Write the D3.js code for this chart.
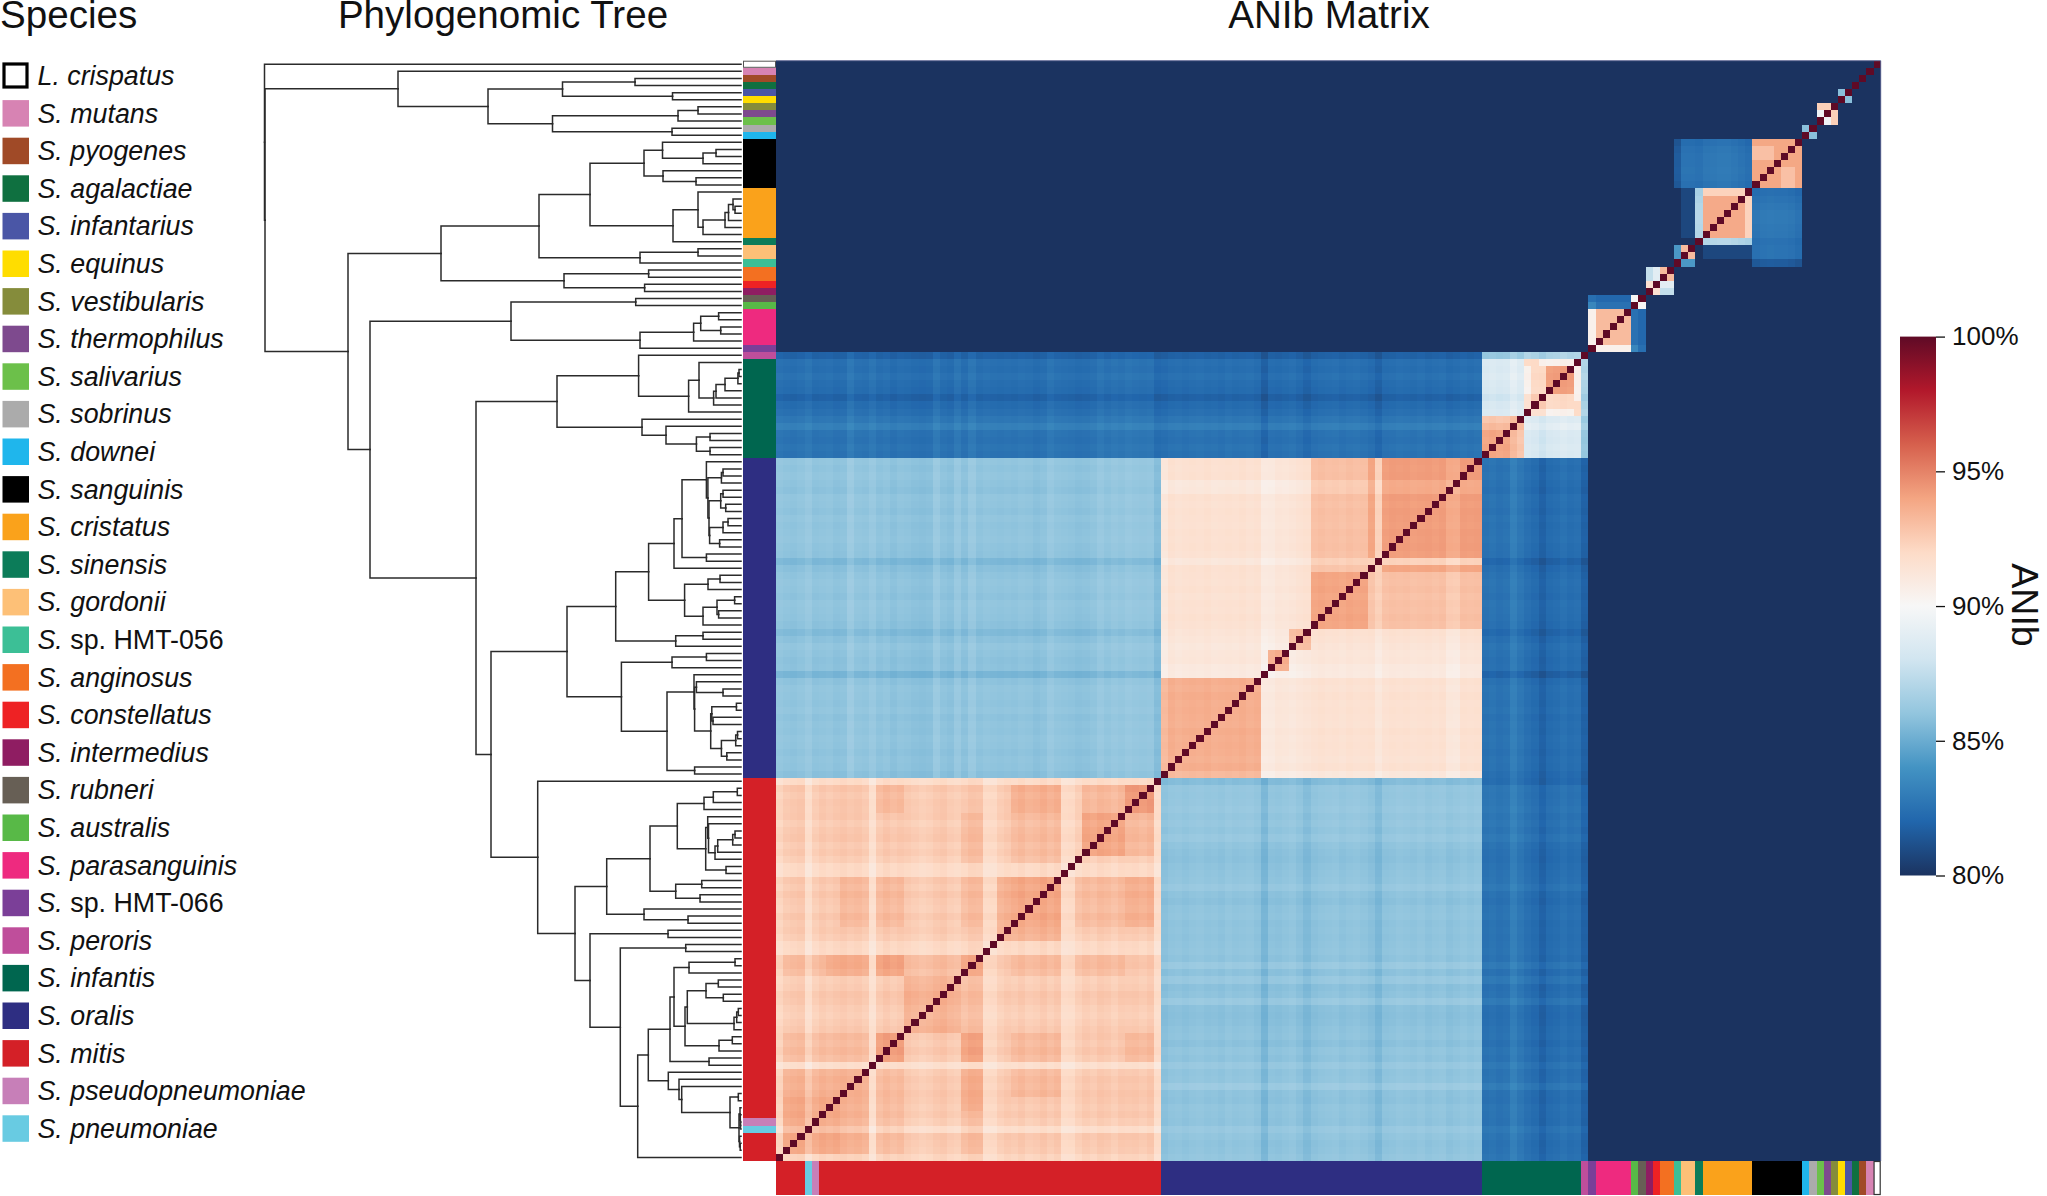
<!DOCTYPE html>
<html>
<head>
<meta charset="utf-8">
<script src="https://cdn.jsdelivr.net/npm/d3@7"></script>
<style>
  html, body { margin: 0; background: #fff; }
  svg { display: block; }
  text { font-family: "Liberation Sans", Arial, sans-serif; fill: #111; }
</style>
</head>
<body>
<svg id="chart" width="2047" height="1196"></svg>
<script>
// legend order, top to bottom
const speciesNames = ["L. crispatus", "S. mutans", "S. pyogenes", "S. agalactiae", "S. infantarius", "S. equinus",
  "S. vestibularis", "S. thermophilus", "S. salivarius", "S. sobrinus", "S. downei", "S. sanguinis", "S. cristatus",
  "S. sinensis", "S. gordonii", "S. sp. HMT-056", "S. anginosus", "S. constellatus", "S. intermedius", "S. rubneri",
  "S. australis", "S. parasanguinis", "S. sp. HMT-066", "S. peroris", "S. infantis", "S. oralis", "S. mitis",
  "S. pseudopneumoniae", "S. pneumoniae"];
const speciesColors = ["#ffffff", "#d783b3", "#a04a27", "#0f7040", "#4a56a6", "#ffdd00",
  "#858c3b", "#7e4a8e", "#6cc04a", "#ababab", "#1fb6ec", "#000000", "#faa21b",
  "#0c7c59", "#fdc077", "#3cbf96", "#f37021", "#ee2224", "#8f1d62", "#675f55",
  "#58b947", "#ee2a7f", "#7b3f98", "#bf4e9b", "#00664f", "#2e2e82", "#d42027",
  "#c77fb8", "#68cbe2"];

// genomes per species, in tree order (mitis comes twice, around pseudopneumoniae and pneumoniae)
const leafRuns = [[0,1],[1,1],[2,1],[3,1],[4,1],[5,1],[6,1],[7,1],[8,1],[9,1],[10,1],[11,7],[12,7],[13,1],[14,2],[15,1],
  [16,2],[17,1],[18,1],[19,1],[20,1],[21,5],[22,1],[23,1],[24,14],[25,45],[26,48],[27,1],[28,1],[26,4]];

// tree clades: [branch depth, child, child], a plain number is a leaf
const earlyTree = [135, 1, [225, [299.5, [372, 2, 3], [409.5, 4, 5]], [289.5, [415, [435, 6, 7], 8], [409, 9, 10]]]];
const sanguinisTree = [178,
  [276,
    [327,
      [381, [399.5, 11, [440, [453, 12, 13], 14]], [400, 15, [433, 16, 17]]],
      [410, [435, 18, [440, [462, [465.5, [470, 19, [472, 20, 21]], 22], 23], 24]], 25]],
    [377, [435, 26, 27], 28]],
  [301, [385.6, 29, 30], [381.6, 31, 32]]];
const parasTree = [248, [372.7, 33, 34], [377, [430.6, [437.7, [455.6, 35, 36], [457.7, 37, 38]], 39], 40]];
const infantisTree = [294,
  [375.6, 41, [425.6, [436, 42, [450.6, [453, [462, [474.9, [476, 43, 44], 45], 46], 47], 48]], 49]],
  [379, 50, [403, 51, [433.4, [447, 52, 53], [447, 54, 55]]]]];

const oralisA = [444.9, [458.4, [460, 57, 58], 59],
  [446, [457.7, [460, 60, 61], [462.7, 62, 63]], [446.6, [460, [465, 64, 65], 66], [456.6, 67, 68]]]];
const oralisB = [421.6, [445, [457, 72, 73], 74], [440, [454, [471.6, 75, 76], [455.6, 77, 78]], 79]];
const oralisUpper = [352.7, [385.6, [411, [419, [443.4, 56, oralisA], [443.4, 69, 70]], 71], oralisB], [412.7, [440, 80, 81], 82]];
const oralisLower = [358.4, [409, [443.4, 83, 84], 85],
  [404,
    [431, 86, [431.6, [433.4, 87, [460, 88, 89]],
      [447.7, [448.8, [473.4, 90, 91], [450, 92, 93]], [458.4, [472.7, [474.5, 94, 95], 96], [463.8, 97, 98]]]]],
    [431.6, 99, 100]]];
const oralisTree = [304, oralisUpper, oralisLower];

const mitisUpper = [343.7,
  [387,
    [414.3,
      [441, [450.3, [474.3, 102, 103], 104], 105],
      [442.7, [444.7, 106, [445.5, 107, [452, [454.7, [469.7, [472, 108, 109], 110], 111], 112]]], [463, 113, 114]]],
    [412.7, [438.7, 115, 116], [437, 117, 118]]],
  [381, 119, [425, 120, 121]]];
const mitisMid = [407,
  [411, [426, [472, 126, 127], 128],
    [422, [424.3, [443, [455.3, 129, 130], [460.3, 131, 132]], [471, [473.7, [475.3, 133, 134], 135], 136]],
      [456, [469.3, 137, 138], 139]]],
  [446, 140, 141]];
const mitisLate = [405.3, 142, [416, 143, [418.7, 144, [467, [475.3, 145, 146],
  [476, [477, 147, [477.3, 148, [477.5, 149, 150]]], [476.5, 151, [477.2, 152, 153]]]]]]];
const mitisLower = [327, [405, 122, 123], [357.3, [422.7, 124, 125], [374.7, [385.3, mitisMid, mitisLate], 154]]];
const mitisTree = [274.7, 101, [312, mitisUpper, mitisLower]];

const tree = [1.5, 0, [2, earlyTree, [85, sanguinisTree, [107, parasTree, [213, infantisTree, [228, oralisTree, mitisTree]]]]]];

// ANIb patches: [first row, last row, first col, last col, %]
// rows and cols are genome numbers in tree order, later patches win, each is mirrored
const smallCladeBlocks = [
  [4,5,4,5,85.8], [6,8,6,8,92.4], [7,8,7,8,89.6], [9,10,9,10,85.8],
  [11,17,11,17,93.9], [12,13,15,17,93], [11,17,18,27,82.5], [11,17,28,28,81.5],
  [18,25,18,25,92.3], [19,24,19,24,93.8], [25,25,18,24,87], [18,24,26,27,80.8],
  [26,27,26,27,93.2], [26,27,28,28,84.2],
  [29,30,29,30,93.2], [29,30,31,31,88.9], [29,30,32,32,87.6], [31,32,31,32,91.6],
  [33,34,33,34,90.1], [33,33,35,40,82.1], [34,34,35,39,82.5], [34,34,40,40,83.4], [33,33,40,40,82.4],
  [35,39,35,39,93.2], [35,39,40,40,90.5]
];
const infantisBlocks = [
  [41,55,56,154,82.4], [41,41,42,49,87.6], [41,41,50,55,86.6], [42,49,50,55,88.4],
  [42,49,42,49,90.5], [42,42,48,49,92], [43,46,47,48,92], [47,48,47,48,92.6], [47,48,49,49,91.6], [43,46,43,46,94.2],
  [50,55,50,55,93.2], [52,55,52,55,93.9], [50,50,52,55,92.7]
];
const oralisBlocks = [
  [56,100,56,100,91.5], [56,100,101,154,85.9],
  [56,69,56,69,94.1], [56,69,72,79,92.9], [56,69,70,70,92.6], [56,69,71,71,93.8],
  [72,79,72,79,93.9], [70,71,72,79,92.7], [71,71,70,70,92.6],
  [56,79,80,82,91.7], [80,82,80,82,93.6], [83,85,83,85,94.3], [86,86,80,85,91.4],
  [87,100,87,100,93.6]
];
const mitisBlocks = [
  [101,154,101,154,92.6],
  [102,105,102,105,94.2], [102,105,106,111,93.2], [106,111,106,111,93.9], [102,105,115,121,93.5], [106,112,115,121,93.1],
  [115,121,115,121,93.8], [115,123,122,123,93.5], [126,128,126,128,93.6], [126,128,129,136,93],
  [129,136,129,136,93.6], [126,128,137,140,93.8], [137,140,137,140,94], [126,128,142,147,93.5], [126,128,148,153,93],
  [142,153,142,153,93.4], [146,153,146,153,93.8], [137,140,142,153,93], [129,136,142,153,92.6],
  [115,121,126,128,93], [115,121,137,140,93.1], [115,121,142,145,93.1], [106,112,126,128,93], [102,105,137,140,93.1]
];

// per genome shift for warm cells (same species), genomes 41..154
const withinShift = [0,0,0,.1,0,-.1,.05,0,-.05,0,0,.05,-.05,.1,0,
  .1,.05,.1,-.4,-.35,.1,0,.1,.05,0,.1,.05,.1,0,-.35,.1,
  .05,0,.1,-.05,.05,0,.1,0,-.15,-.25,-.4,-.3,-.25,-.5,-.55,
  .05,-.05,.1,0,.05,0,-.05,.1,0,.05,0,-.1,.05,-.4,
  -.7,.15,-.05,.1,.05,.1,-.15,.05,.15,-.1,.05,-.2,-.6,-.65,
  .15,-.05,.2,0,-.1,.15,-.05,.05,-.15,-.55,-.6,.2,.25,0,
  -.2,-.1,.15,.05,-.15,-.25,-.1,.05,.15,0,.2,-.05,-.9,
  -.05,.15,.05,.2,.1,-.05,.1,-.15,-.8,.15,.05,-.05,-.4];
// per genome shift for blue cells (between species), genomes 11..40 then 41..154
const earlyCrossShift = [-.2,0,.1,.1,.15,.1,-.05,-.2,0,.15,.3,.3,.2,.15,-.1,
  0,0,0,0,0,0,0,0,0,0,0,0,0,0,0];
const crossShift = [-.6,0,-.1,.1,-.1,-.2,-.6,-.2,0,.3,.7,.15,.05,.2,.1,
  .1,0,.1,0,-.1,.1,.05,-.05,.1,0,.05,.1,0,-.05,-.5,-.15,
  0,.1,.05,-.05,.1,.05,0,-.1,-.4,-.1,.1,0,-.1,-.05,-.6,
  -.05,.1,.05,0,.1,-.05,.05,0,.1,.05,-.05,.05,0,-.15,
  -.25,.2,.15,.2,.3,.15,.25,.1,.3,.05,-.05,-.1,0,.05,
  .1,.3,0,-.1,.05,.1,0,.05,0,.05,.1,0,.35,-.05,
  .3,-.1,0,.35,-.1,-.15,-.1,0,.05,-.1,.1,0,.3,
  .05,.1,.45,0,-.05,.1,.05,0,.3,.1,0,.05,.15];
const withinStart = 41;
const crossStart = 11;

// colour bar
const colorDomain = [80, 82, 84, 86, 88, 90, 92, 94, 96, 98, 100];
const colorRange = ["#1b3360", "#2166ac", "#4393c3", "#92c5de", "#d1e5f0", "#f7f7f7", "#fddbc7", "#f4a582", "#d6604d", "#b2182b", "#5f0a26"];
const barTicks = [80, 85, 90, 95, 100];

const svg = d3.select("#chart");

const leafSpecies = leafRuns.flatMap(([s, n]) => d3.range(n).map(() => s));
const leaves = d3.range(leafSpecies.length);

const yBand = d3.scaleBand().domain(leaves).range([60.7, 1161]);
const xBand = d3.scaleBand().domain(leaves).range([1880.7, 776]);
const depthX = d3.scaleLinear().domain([0, 478]).range([263, 741]);
const color = d3.scaleLinear().domain(colorDomain).range(colorRange).clamp(true);

// build the matrix
const ani = leaves.map(() => leaves.map(() => 78));
[smallCladeBlocks, infantisBlocks, oralisBlocks, mitisBlocks].forEach((list) => {
  list.forEach(([r0, r1, c0, c1, v]) => {
    for (let r = r0; r <= r1; r++) {
      for (let c = c0; c <= c1; c++) {
        ani[r][c] = v;
        ani[c][r] = v;
      }
    }
  });
});

const crossAll = earlyCrossShift.concat(crossShift);
const cells = [];
leaves.forEach((r) => {
  leaves.forEach((c) => {
    let v = ani[r][c];
    if (v >= 90 && r >= withinStart && c >= withinStart) {
      v += withinShift[r - withinStart] + withinShift[c - withinStart];
    } else if (v > 81 && v < 90 && r >= crossStart && c >= crossStart) {
      v += crossAll[r - crossStart] + crossAll[c - crossStart];
    }
    if (r === c) v = 100;
    cells.push({ r, c, v });
  });
});

svg.append("g")
  .attr("shape-rendering", "crispEdges")
  .selectAll("rect")
  .data(cells)
  .enter()
  .append("rect")
  .attr("x", (d) => xBand(d.c))
  .attr("y", (d) => yBand(d.r))
  .attr("width", xBand.bandwidth())
  .attr("height", yBand.bandwidth())
  .attr("fill", (d) => color(d.v));

// thin frame on the open sides
svg.append("path")
  .attr("d", d3.line()([[xBand.range()[1], yBand.range()[0]], [xBand.range()[0], yBand.range()[0]], [xBand.range()[0], yBand.range()[1]]]))
  .attr("fill", "none")
  .attr("stroke", "#5c6490")
  .attr("stroke-width", 1);

// species strips
const sideX = depthX(478) + 2;
const sideW = xBand.range()[1] - sideX;
const bottomY = yBand.range()[1];
const bottomH = 34;

svg.append("g")
  .attr("shape-rendering", "crispEdges")
  .selectAll("rect")
  .data(leaves)
  .enter()
  .append("rect")
  .attr("x", sideX)
  .attr("y", (d) => yBand(d))
  .attr("width", sideW)
  .attr("height", yBand.bandwidth())
  .attr("fill", (d) => speciesColors[leafSpecies[d]]);

svg.append("g")
  .attr("shape-rendering", "crispEdges")
  .selectAll("rect")
  .data(leaves)
  .enter()
  .append("rect")
  .attr("x", (d) => xBand(d))
  .attr("y", bottomY)
  .attr("width", xBand.bandwidth())
  .attr("height", bottomH)
  .attr("fill", (d) => speciesColors[leafSpecies[d]]);

svg.append("rect")
  .attr("x", sideX + 0.5)
  .attr("y", yBand(0) + 0.5)
  .attr("width", sideW - 1)
  .attr("height", yBand.bandwidth() - 1)
  .attr("fill", "#fff")
  .attr("stroke", "#555")
  .attr("stroke-width", 1);

svg.append("rect")
  .attr("x", xBand(0) + 0.5)
  .attr("y", bottomY + 0.5)
  .attr("width", xBand.bandwidth() - 1)
  .attr("height", bottomH - 1)
  .attr("fill", "#fff")
  .attr("stroke", "#333")
  .attr("stroke-width", 1.2);

// tree
const root = d3.hierarchy(tree, (d) => (Array.isArray(d) ? d.slice(1) : null));
root.eachAfter((n) => {
  if (n.children) {
    n.py = (n.children[0].py + n.children[n.children.length - 1].py) / 2;
    n.px = depthX(n.data[0]);
  } else {
    n.py = yBand(n.data) + yBand.bandwidth() / 2;
    n.px = depthX(478);
  }
});

svg.append("g")
  .selectAll("path")
  .data(root.links())
  .enter()
  .append("path")
  .attr("d", (d) => `M${d.source.px},${d.source.py}V${d.target.py}H${d.target.px}`)
  .attr("fill", "none")
  .attr("stroke", "#2b2b2b")
  .attr("stroke-width", 1.5)
  .attr("stroke-linecap", "square");

// titles
const titles = [["Species", 0, "start"], ["Phylogenomic Tree", 503, "middle"], ["ANIb Matrix", 1329, "middle"]];
svg.append("g")
  .selectAll("text")
  .data(titles)
  .enter()
  .append("text")
  .attr("x", (d) => d[1])
  .attr("y", 28)
  .attr("text-anchor", (d) => d[2])
  .attr("font-size", 38.6)
  .text((d) => d[0]);

// legend
const legendY = d3.scalePoint().domain(speciesNames).range([75.5, 75.5 + 37.6 * 28]);
const legend = svg.append("g")
  .selectAll("g")
  .data(speciesNames)
  .enter()
  .append("g")
  .attr("transform", (d) => `translate(0,${legendY(d)})`);

legend.append("rect")
  .attr("x", (d, i) => (i === 0 ? 4 : 2.5))
  .attr("y", (d, i) => (i === 0 ? -11.5 : -13))
  .attr("width", (d, i) => (i === 0 ? 23 : 26.5))
  .attr("height", (d, i) => (i === 0 ? 23 : 26.5))
  .attr("fill", (d, i) => speciesColors[i])
  .attr("stroke", (d, i) => (i === 0 ? "#000" : "none"))
  .attr("stroke-width", 3.2);

const legendText = legend.append("text")
  .attr("x", 37.5)
  .attr("y", 9.5)
  .attr("font-size", 26.8);

legendText.each(function (d) {
  const sp = d.indexOf("sp.") > 0;
  const t = d3.select(this);
  if (sp) {
    t.append("tspan").attr("font-style", "italic").text("S.");
    t.append("tspan").text(" " + d.slice(3));
  } else {
    t.append("tspan").attr("font-style", "italic").text(d);
  }
});

// colour bar
const barY = d3.scaleLinear().domain([80, 100]).range([875.5, 336.6]);
const defs = svg.append("defs");
const grad = defs.append("linearGradient")
  .attr("id", "aniGrad")
  .attr("x1", 0).attr("x2", 0).attr("y1", 1).attr("y2", 0);
grad.selectAll("stop")
  .data(colorDomain)
  .enter()
  .append("stop")
  .attr("offset", (d) => (d - 80) / 20)
  .attr("stop-color", (d) => color(d));

svg.append("rect")
  .attr("x", 1900)
  .attr("y", barY(100))
  .attr("width", 36)
  .attr("height", barY(80) - barY(100))
  .attr("fill", "url(#aniGrad)");

const barAxis = svg.append("g")
  .attr("transform", "translate(1936,0)")
  .call(d3.axisRight(barY).tickValues(barTicks).tickSize(9).tickPadding(7).tickFormat((d) => d + "%"));
barAxis.select(".domain").remove();
barAxis.selectAll("line").attr("stroke", "#111").attr("stroke-width", 1.3);
barAxis.selectAll("text")
  .attr("font-size", 26)
  .attr("font-family", '"Liberation Sans", Arial, sans-serif')
  .attr("fill", "#111");

svg.append("text")
  .attr("transform", "translate(2012,605) rotate(90)")
  .attr("text-anchor", "middle")
  .attr("font-size", 37.5)
  .text("ANIb");
</script>
</body>
</html>
